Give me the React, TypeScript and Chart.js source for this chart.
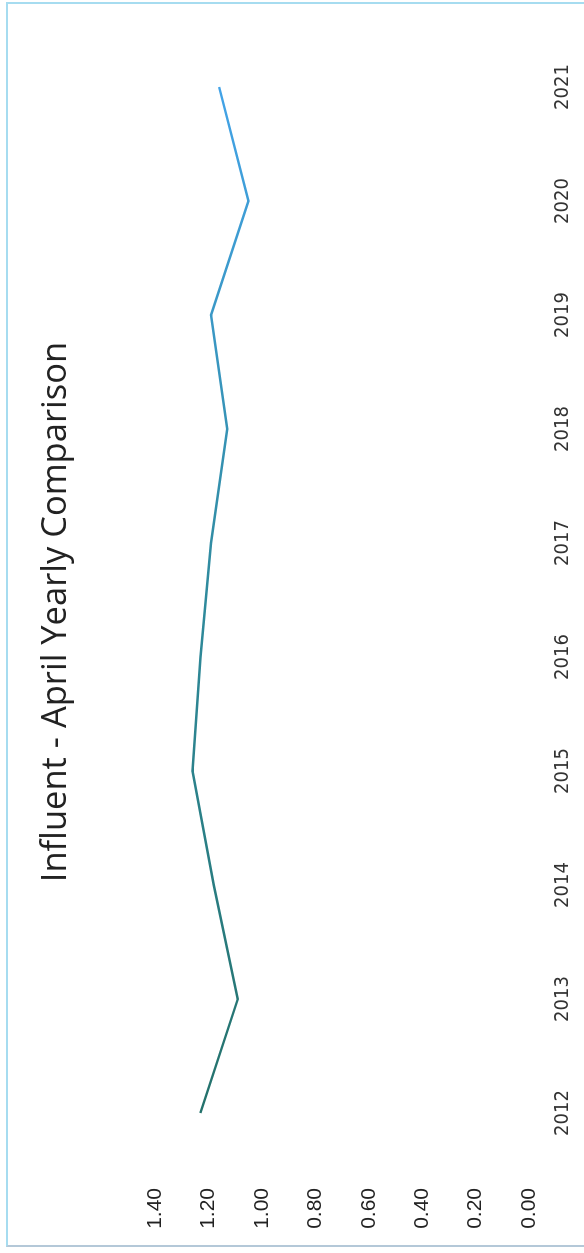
import React, { useEffect, useRef } from "react";
import { Chart, registerables } from "chart.js";

Chart.register(...registerables);

const TITLE = "Influent - April Yearly Comparison";
const YEARS = ["2012", "2013", "2014", "2015", "2016", "2017", "2018", "2019", "2020", "2021"];
const INFLUENT = [1.23, 1.09, 1.18, 1.26, 1.23, 1.19, 1.13, 1.19, 1.05, 1.16];
const Y_MIN = 0;
const Y_MAX = 1.4;
const Y_STEP = 0.2;

const W = 1253;
const H = 584;

const titlePlugin = {
  id: "rotTitle",
  afterDraw(chart: any) {
    const ctx = chart.ctx;
    ctx.save();
    ctx.font = "34.5px 'Open Sans', 'Liberation Sans', sans-serif";
    ctx.fillStyle = "#222";
    ctx.textAlign = "center";
    ctx.textBaseline = "alphabetic";
    ctx.fillText(TITLE, chart.width * 0.5115, 66);
    ctx.restore();
  },
};

export default function App() {
  const ref = useRef<HTMLCanvasElement | null>(null);

  useEffect(() => {
    document.body.style.margin = "0";
    const canvas = ref.current;
    if (!canvas) return;
    const chart = new Chart(canvas, {
      type: "line",
      data: {
        labels: YEARS,
        datasets: [
          {
            label: "Influent",
            data: INFLUENT,
            borderWidth: 2.5,
            pointRadius: 0,
            tension: 0,
            borderColor: (ctx: any) => {
              const c = ctx.chart;
              const a = c.chartArea;
              if (!a) return "#2a7f78";
              const g = c.ctx.createLinearGradient(a.left, 0, a.right, 0);
              g.addColorStop(0, "#236f66");
              g.addColorStop(0.5, "#2f8a9c");
              g.addColorStop(1, "#45a6f0");
              return g;
            },
          },
        ],
      },
      options: {
        animation: false,
        responsive: false,
        maintainAspectRatio: false,
        layout: { padding: { left: 0, right: 30, top: 155, bottom: 0 } },
        plugins: {
          legend: { display: false },
          tooltip: { enabled: false },
          title: { display: false },
        },
        scales: {
          x: {
            type: "category",
            offset: true,
            grid: { display: false, drawTicks: false },
            border: { display: false },
            ticks: {
              color: "#333",
              font: { family: "'Liberation Sans Narrow', 'DejaVu Sans Condensed', sans-serif", size: 20 },
              padding: 22,
              maxRotation: 0,
              minRotation: 0,
            },
            afterFit: (s: any) => {
              s.height = 55;
            },
          },
          y: {
            min: Y_MIN,
            max: Y_MAX,
            grid: { display: false, drawTicks: false },
            border: { display: false },
            ticks: {
              stepSize: Y_STEP,
              color: "#222",
              font: { family: "'Liberation Sans', Arial, sans-serif", size: 21 },
              padding: 18,
              callback: (v: any) => Number(v).toFixed(2),
            },
            afterFit: (s: any) => {
              s.width = 83;
            },
          },
        },
      },
      plugins: [titlePlugin],
    });
    return () => chart.destroy();
  }, []);

  return (
    <div
      style={{
        position: "absolute",
        left: 0,
        top: 0,
        width: W,
        height: H,
        overflow: "hidden",
        background: "#fff",
        transformOrigin: "0 0",
        transform: `translate(0px, ${W}px) rotate(-90deg)`,
      }}
    >
      <canvas ref={ref} width={W} height={H} style={{ display: "block", width: W, height: H }} />
      <div
        style={{
          position: "absolute",
          left: 6,
          top: 6,
          right: 2,
          bottom: -4,
          borderTop: "2px solid #a6dcf0",
          borderLeft: "2px solid #b4c8d8",
          borderRight: "2px solid #a6dcf0",
          pointerEvents: "none",
        }}
      />
    </div>
  );
}
